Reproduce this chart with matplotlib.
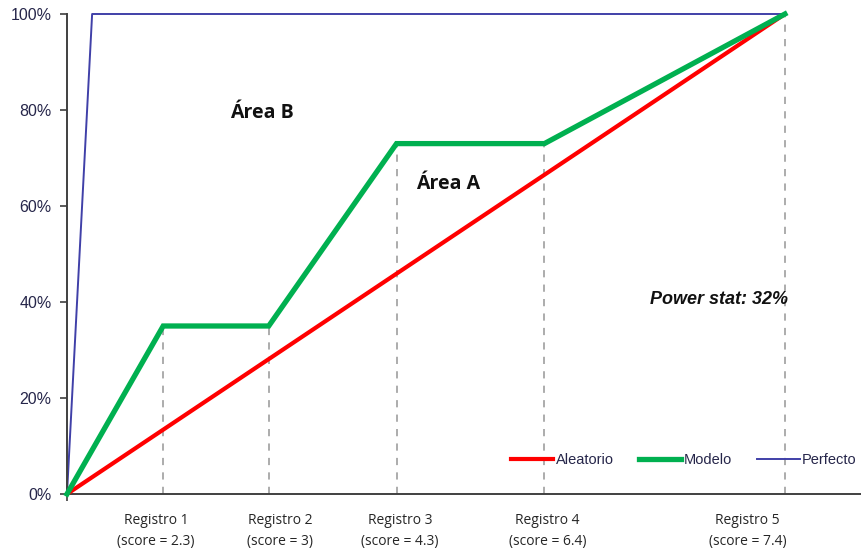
import matplotlib
matplotlib.use("Agg")
import matplotlib.pyplot as plt
from matplotlib.lines import Line2D
from matplotlib.ticker import FuncFormatter

plt.rcParams["font.family"] = ["Liberation Sans", "DejaVu Sans"]

# Cumulative share of population (%) at each record, and cumulative share captured (%)
x_pos = [0, 13.4, 28.1, 45.9, 66.5, 100]
aleatorio = [0, 13.4, 28.1, 45.9, 66.5, 100]
modelo = [0, 35, 35, 73, 73, 100]
perfecto_x = [0, 3.5, 100]
perfecto = [0, 100, 100]

registros = ["Registro 1", "Registro 2", "Registro 3", "Registro 4", "Registro 5"]
scores = ["2.3", "3", "4.3", "6.4", "7.4"]
y_ticks = [0, 20, 40, 60, 80, 100]

# where the category captions sit under the axis (data units)
caption_x = [12.4, 29.7, 46.4, 66.9, 94.8]

W, H = 861, 552
fig = plt.figure(figsize=(W / 100, H / 100), dpi=100)
ax = fig.add_axes([67 / W, 58 / H, (W - 67) / W, 480 / H])
ax.set_xlim(0, 110.6)
ax.set_ylim(0, 100)

for s in ("top", "right"):
    ax.spines[s].set_visible(False)
for s in ("left", "bottom"):
    ax.spines[s].set_color("#404040")
    ax.spines[s].set_linewidth(1.4)

# dashed guides from each record down to the axis
for i in range(1, len(x_pos)):
    top = 100 if i == len(x_pos) - 1 else modelo[i]
    ax.plot([x_pos[i], x_pos[i]], [0, top], color="#a6a6a6", lw=1.3,
            dashes=(4, 4), zorder=1)

ax.plot(x_pos, aleatorio, color="#ff0000", lw=3.0, zorder=3, clip_on=False,
        solid_capstyle="butt")
ax.plot(x_pos, modelo, color="#00b050", lw=3.8, zorder=4, clip_on=False,
        solid_joinstyle="miter")
ax.plot(perfecto_x, perfecto, color="#4040a8", lw=1.4, zorder=2, clip_on=False)

ax.set_yticks(y_ticks)
ax.yaxis.set_major_formatter(FuncFormatter(lambda v, _: f"{v:.0f}%"))
ax.tick_params(axis="y", direction="out", length=5, width=1.2, color="#404040",
               labelsize=11.5, labelcolor="#26264a", pad=6)
ax.set_xticks([0])
ax.set_xticklabels([""])
ax.tick_params(axis="x", direction="out", length=5, width=1.2, color="#404040")

for cx, reg, sc in zip(caption_x, registros, scores):
    ax.text(cx, -5.6, reg, ha="center", va="center", fontsize=10,
            family="Open Sans", color="#262626")
    ax.text(cx, -9.8, f"(score = {sc})", ha="center", va="center", fontsize=10,
            family="Open Sans", color="#262626")

ax.text(27.2, 79.4, "Área B", ha="center", va="center", fontsize=14,
        fontweight="bold", family="Open Sans", color="#111111")
ax.text(53.1, 64.6, "Área A", ha="center", va="center", fontsize=14,
        fontweight="bold", family="Open Sans", color="#111111")
ax.text(100.5, 40.5, "Power stat: 32%", ha="right", va="center", fontsize=13,
        fontweight="bold", fontstyle="italic", color="#111111")

handles = [
    Line2D([], [], color="#ff0000", lw=3.0),
    Line2D([], [], color="#00b050", lw=3.8),
    Line2D([], [], color="#4040a8", lw=1.4),
]
leg = fig.legend(handles, ["Aleatorio", "Modelo", "Perfecto"], loc="center left",
                 bbox_to_anchor=(498 / W, 1 - 460 / H), ncol=3, frameon=False,
                 handlelength=2.9, handletextpad=0.15, columnspacing=1.75,
                 prop={"size": 10.5})
for t in leg.get_texts():
    t.set_color("#26264a")

fig.savefig("out.png", dpi=100)
